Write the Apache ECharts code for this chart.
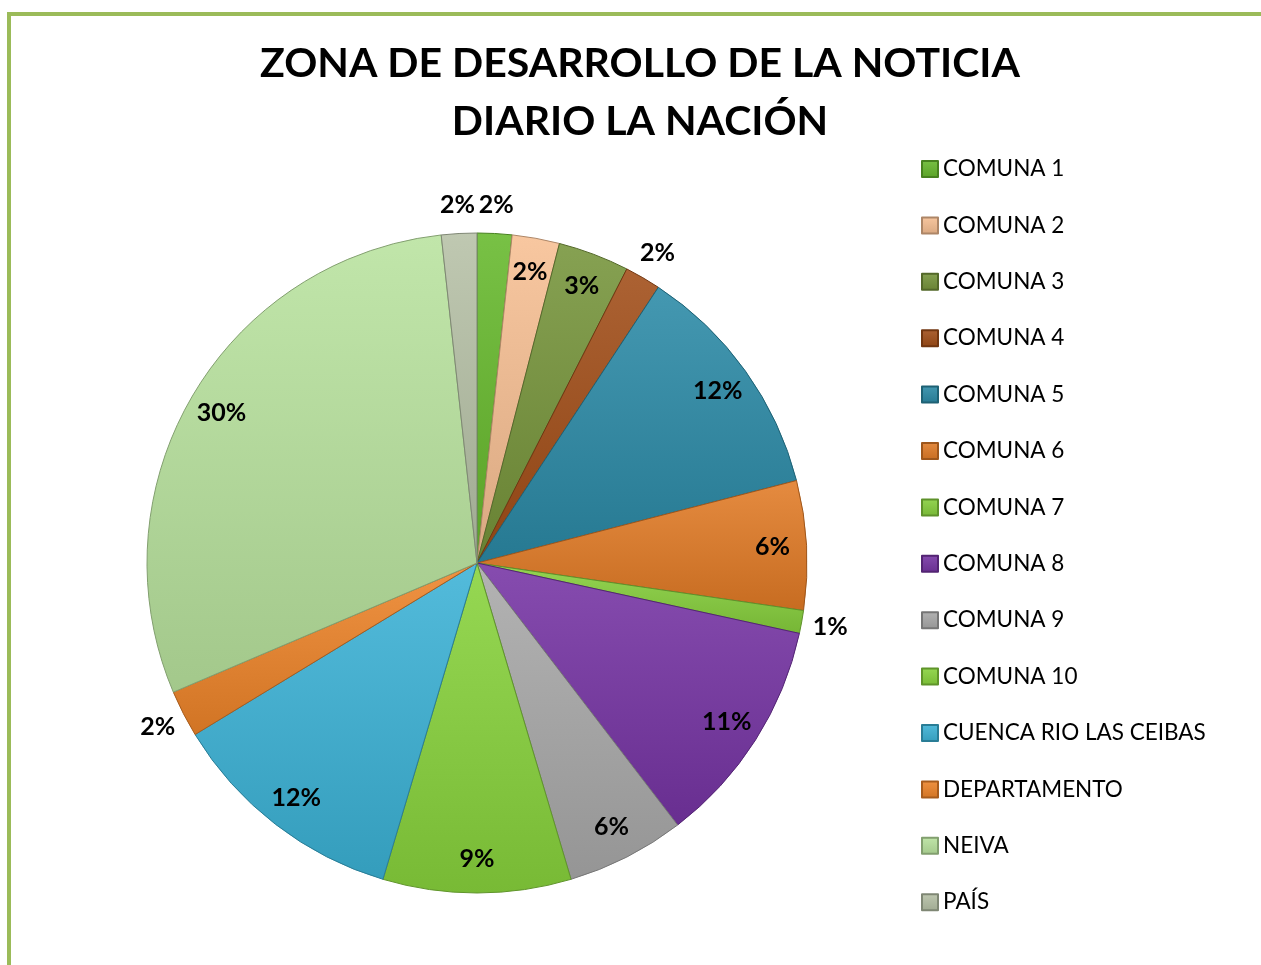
<!DOCTYPE html>
<html>
<head>
<meta charset="utf-8">
<title>Zona de desarrollo de la noticia</title>
<script src="https://cdn.jsdelivr.net/npm/echarts@6/dist/echarts.min.js"></script>
<style>
  html, body { margin: 0; padding: 0; background: #fff; overflow: hidden; }
  #frame {
    position: absolute; left: 7px; top: 12px; width: 1400px; height: 1100px;
    border-left: 4px solid #9BBB59; border-top: 4px solid #9BBB59;
  }
  #chart { position: absolute; left: 0; top: 0; width: 1261px; height: 965px; }
</style>
</head>
<body>
<div id="frame"></div>
<div id="chart"></div>
<script>
// zonas (orden de la leyenda y del pastel, en sentido horario desde arriba)
const zonas = ['COMUNA 1', 'COMUNA 2', 'COMUNA 3', 'COMUNA 4', 'COMUNA 5', 'COMUNA 6', 'COMUNA 7',
  'COMUNA 8', 'COMUNA 9', 'COMUNA 10', 'CUENCA RIO LAS CEIBAS', 'DEPARTAMENTO', 'NEIVA', 'PAÍS'];
// participación estimada (%)
const valores = [1.70, 2.32, 3.48, 1.76, 11.72, 6.32, 1.12, 11.18, 5.8, 9.2, 11.7, 2.3, 29.67, 1.73];
// dónde va la etiqueta: dentro o fuera del sector
const posEtiqueta = ['out', 'in', 'in', 'out', 'in', 'in', 'out', 'in', 'in', 'in', 'in', 'out', 'in', 'out'];

const colores = ['#66b82c', '#f7bf93', '#76943a', '#a14d17', '#2b8aa6', '#e27b26', '#86cf3c',
  '#7634a4', '#a9a9a9', '#88d33c', '#3bb2d6', '#ee8429', '#b9e39e', '#b6c1a6'];

function mix(hex, target, t) {
  const c = echarts.color.parse(hex);
  const r = Math.round(c[0] + (target - c[0]) * t);
  const g = Math.round(c[1] + (target - c[1]) * t);
  const b = Math.round(c[2] + (target - c[2]) * t);
  return 'rgb(' + r + ',' + g + ',' + b + ')';
}

function grad(hex) {
  return {
    type: 'linear', x: 0, y: 0, x2: 0, y2: 1,
    colorStops: [
      { offset: 0, color: mix(hex, 255, 0.12) },
      { offset: 1, color: mix(hex, 0, 0.12) }
    ]
  };
}

const font = 'Lato, "Open Sans", sans-serif';
const cx = 477, cy = 563, R = 330;

const chartDom = document.getElementById('chart');
const myChart = echarts.init(chartDom, null, { renderer: 'canvas' });

const pieData = zonas.map((z, i) => ({
  name: z,
  value: valores[i],
  itemStyle: { color: grad(colores[i]), borderColor: mix(colores[i], 0, 0.3), borderWidth: 1 }
}));

function labelData(which) {
  return zonas.map((z, i) => ({
    name: z,
    value: valores[i],
    label: { show: posEtiqueta[i] === which }
  }));
}

const labelSeries = (radio, which) => ({
  type: 'pie',
  center: [cx, cy],
  radius: [0, radio * 2],
  startAngle: 90,
  clockwise: true,
  silent: true,
  avoidLabelOverlap: false,
  percentPrecision: 0,
  itemStyle: { color: 'transparent', borderWidth: 0 },
  emphasis: { disabled: true },
  labelLine: { show: false },
  label: {
    position: 'inside',
    formatter: '{d}%',
    fontFamily: font,
    fontWeight: 'bold',
    fontSize: 25,
    color: '#000'
  },
  data: labelData(which)
});

const option = {
  backgroundColor: 'transparent',
  animation: false,
  title: {
    text: 'ZONA DE DESARROLLO DE LA NOTICIA\nDIARIO LA NACIÓN',
    left: 635,
    textAlign: 'center',
    top: 30,
    textStyle: {
      fontFamily: font,
      fontWeight: 'bold',
      fontSize: 41,
      lineHeight: 58,
      color: '#000'
    }
  },
  legend: {
    orient: 'vertical',
    left: 916,
    top: 152,
    icon: 'rect',
    itemWidth: 16,
    itemHeight: 16,
    itemGap: 32.4,
    selectedMode: false,
    data: zonas,
    textStyle: {
      fontFamily: font,
      fontSize: 22.5,
      lineHeight: 24,
      color: '#000'
    }
  },
  series: [
    {
      name: 'Zona',
      type: 'pie',
      center: [cx, cy],
      radius: [0, R],
      startAngle: 90,
      clockwise: true,
      label: { show: false },
      labelLine: { show: false },
      emphasis: { scale: false },
      data: pieData
    },
    labelSeries(293, 'in'),
    labelSeries(356, 'out')
  ]
};

myChart.setOption(option);
window.addEventListener('resize', myChart.resize);
</script>
</body>
</html>
